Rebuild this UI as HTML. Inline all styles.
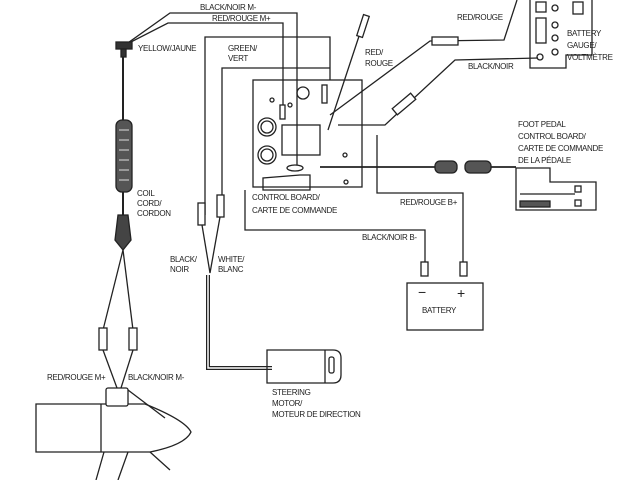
<!DOCTYPE html>
<html><head><style>
html,body{margin:0;padding:0;background:#fff}
svg{display:block}
text{font-family:"Liberation Sans",sans-serif;font-size:8px;fill:#222;letter-spacing:-0.3px}
</style></head><body>
<svg width="640" height="480" viewBox="0 0 640 480" fill="none" stroke="#222" stroke-width="1.3">
<polyline points="125,45 170,13 297,13 297,165"/>
<polyline points="125,45 168,23 283,23 283,105"/>
<polyline points="205,215 205,37 330,37 330,80"/>
<polyline points="222,200 222,68 330,68"/>
<text x="200" y="10" stroke="none">BLACK/NOIR M-</text>
<text x="212" y="21" stroke="none">RED/ROUGE M+</text>
<text x="138" y="51" stroke="none">YELLOW/JAUNE</text>
<text x="228" y="51" stroke="none">GREEN/</text>
<text x="228" y="61" stroke="none">VERT</text>
<rect x="116" y="42" width="16" height="7" fill="#333"/>
<rect x="121" y="49" width="5" height="8" fill="#333"/>
<line x1="123" y1="57" x2="123" y2="120" stroke-width="2"/>
<rect x="116" y="120" width="16" height="72" rx="6" fill="#555"/>
<g stroke="#ddd" stroke-width="1"><line x1="119" y1="130" x2="129" y2="130"/><line x1="119" y1="140" x2="129" y2="140"/><line x1="119" y1="150" x2="129" y2="150"/><line x1="119" y1="160" x2="129" y2="160"/><line x1="119" y1="170" x2="129" y2="170"/><line x1="119" y1="180" x2="129" y2="180"/></g>
<text x="137" y="196" stroke="none">COIL</text>
<text x="137" y="206" stroke="none">CORD/</text>
<text x="137" y="216" stroke="none">CORDON</text>
<line x1="123" y1="192" x2="123" y2="215" stroke-width="2"/>
<path d="M118,215 L128,215 L131,240 L123,250 L115,240 Z" fill="#444"/>
<polyline points="123,250 103,330"/><polyline points="123,250 133,330"/>
<rect x="99" y="328" width="8" height="22" fill="#fff"/><rect x="129" y="328" width="8" height="22" fill="#fff"/>
<polyline points="103,350 117,388"/><polyline points="133,350 121,388"/>
<text x="47" y="380" stroke="none">RED/ROUGE M+</text>
<text x="128" y="380" stroke="none">BLACK/NOIR M-</text>
<path d="M36,404 L145,404 Q185,420 191,432 Q185,445 150,452 L36,452 Z" fill="#fff"/>
<line x1="101" y1="404" x2="101" y2="452"/>
<rect x="106" y="388" width="22" height="18" rx="2" fill="#fff"/>
<path d="M128,390 L165,418"/>
<path d="M104,452 L96,480 M128,452 L118,480 M150,452 L170,470"/>
<rect x="253" y="80" width="109" height="107"/>
<circle cx="267" cy="127" r="9"/><circle cx="267" cy="127" r="6"/>
<circle cx="267" cy="155" r="9"/><circle cx="267" cy="155" r="6"/>
<circle cx="303" cy="93" r="6"/><circle cx="272" cy="100" r="2"/><circle cx="290" cy="105" r="2"/><circle cx="345" cy="155" r="2"/><circle cx="346" cy="182" r="2"/>
<rect x="282" y="125" width="38" height="30"/>
<path d="M263,190 L263,178 L300,175 L310,175 L310,190 Z"/>
<ellipse cx="295" cy="168" rx="8" ry="3"/>
<rect x="280" y="105" width="5" height="14"/>
<rect x="322" y="85" width="5" height="18"/>
<polyline points="245,190 245,230 425,230 425,262"/>
<polyline points="377,135 377,193 463,193 463,262"/>
<text x="400" y="205" stroke="none">RED/ROUGE B+</text>
<text x="362" y="240" stroke="none">BLACK/NOIR B-</text>
<text x="252" y="200" stroke="none">CONTROL BOARD/</text>
<text x="252" y="213" stroke="none">CARTE DE COMMANDE</text>
<line x1="365" y1="18" x2="328" y2="130"/>
<rect x="360" y="15" width="6" height="22" transform="rotate(18 363 26)" fill="#fff"/>
<text x="365" y="55" stroke="none">RED/</text>
<text x="365" y="66" stroke="none">ROUGE</text>
<polyline points="330,115 430,41 504,40 517,0"/>
<rect x="432" y="37" width="26" height="8" fill="#fff"/>
<polyline points="338,125 385,125 455,60 538,58"/>
<rect x="400" y="92" width="8" height="24" transform="rotate(50 404 104)" fill="#fff"/>
<text x="457" y="20" stroke="none">RED/ROUGE</text>
<text x="468" y="69" stroke="none">BLACK/NOIR</text>
<path d="M530,0 L530,68 L566,68 L566,55 L592,55 L592,20 L592,0"/>
<rect x="536" y="2" width="10" height="10"/><rect x="536" y="18" width="10" height="25"/>
<circle cx="555" cy="8" r="3"/><circle cx="555" cy="25" r="3"/><circle cx="555" cy="38" r="3"/><circle cx="555" cy="52" r="3"/><circle cx="540" cy="57" r="3"/>
<rect x="573" y="2" width="10" height="12"/>
<text x="567" y="36" stroke="none">BATTERY</text>
<text x="567" y="48" stroke="none">GAUGE/</text>
<text x="567" y="60" stroke="none">VOLTMÈTRE</text>
<line x1="320" y1="167" x2="435" y2="167" stroke-width="1.8"/>
<rect x="435" y="161" width="22" height="12" rx="5" fill="#555"/>
<rect x="465" y="161" width="26" height="12" rx="5" fill="#555"/>
<line x1="491" y1="167" x2="516" y2="167" stroke-width="1.8"/>
<text x="518" y="127" stroke="none">FOOT PEDAL</text>
<text x="518" y="139" stroke="none">CONTROL BOARD/</text>
<text x="518" y="151" stroke="none">CARTE DE COMMANDE</text>
<text x="518" y="163" stroke="none">DE LA PÉDALE</text>
<path d="M516,180 L516,210 L596,210 L596,182 L550,182 L550,168 L516,168 Z"/>
<line x1="520" y1="194" x2="575" y2="194"/>
<rect x="520" y="201" width="30" height="6" fill="#555"/>
<rect x="575" y="186" width="6" height="6"/><rect x="575" y="200" width="6" height="6"/>
<rect x="421" y="262" width="7" height="14"/><rect x="460" y="262" width="7" height="14"/>
<rect x="407" y="283" width="76" height="47"/>
<text x="418" y="297" stroke="none" style="font-size:14px">−</text>
<text x="457" y="298" stroke="none" style="font-size:14px">+</text>
<text x="422" y="313" stroke="none">BATTERY</text>
<rect x="198" y="203" width="7" height="22" fill="#fff"/><rect x="217" y="195" width="7" height="22" fill="#fff"/>
<polyline points="202,225 210,273 220,217"/>
<polyline points="208,275 208,368 272,368" stroke-width="4"/>
<polyline points="208,275 208,368 272,368" stroke="#fff" stroke-width="1.5"/>
<text x="170" y="262" stroke="none">BLACK/</text><text x="170" y="272" stroke="none">NOIR</text>
<text x="218" y="262" stroke="none">WHITE/</text><text x="218" y="272" stroke="none">BLANC</text>
<path d="M267,350 L333,350 Q341,350 341,358 L341,375 Q341,383 333,383 L267,383 Z"/>
<line x1="325" y1="350" x2="325" y2="383"/><rect x="329" y="357" width="5" height="16" rx="2"/>
<text x="272" y="395" stroke="none">STEERING</text>
<text x="272" y="406" stroke="none">MOTOR/</text>
<text x="272" y="417" stroke="none">MOTEUR DE DIRECTION</text>
</svg>
</body></html>
